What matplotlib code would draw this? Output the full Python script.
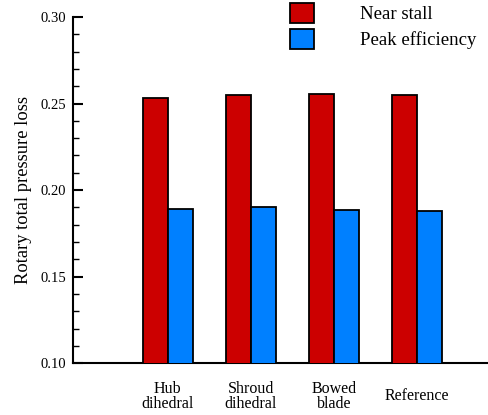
import numpy as np
import matplotlib.pyplot as plt
from matplotlib.ticker import MultipleLocator

plt.rcParams['font.family'] = ['Liberation Serif', 'DejaVu Serif']

categories = ["Hub\ndihedral", "Shroud\ndihedral", "Bowed\nblade", "Reference"]
near_stall = [0.2531, 0.2549, 0.2555, 0.2547]
peak_eff = [0.1892, 0.1902, 0.1884, 0.1879]

red = "#CC0000"
blue = "#0080FF"

fig = plt.figure(figsize=(4.89, 4.15), dpi=100)
ax = fig.add_axes([0.149, 0.125, 0.851, 0.834])

x = np.arange(len(categories))
w = 0.30
ax.bar(x - w / 2, near_stall, w, color=red, edgecolor="black", linewidth=1.3, label="Near stall", zorder=3)
ax.bar(x + w / 2, peak_eff, w, color=blue, edgecolor="black", linewidth=1.3, label="Peak efficiency", zorder=3)

ax.set_ylim(0.10, 0.30)
ax.set_xlim(-1.145, 3.87)
ax.spines['top'].set_visible(False)
ax.spines['right'].set_visible(False)
ax.spines['left'].set_linewidth(1.5)
ax.spines['bottom'].set_linewidth(1.5)

ax.yaxis.set_major_locator(MultipleLocator(0.05))
ax.yaxis.set_minor_locator(MultipleLocator(0.01))
ax.yaxis.set_major_formatter(plt.FormatStrFormatter('%.2f'))
ax.tick_params(axis='y', which='major', direction='in', length=7, width=1.5, labelsize=10.5, pad=5)
ax.tick_params(axis='y', which='minor', direction='in', length=4.5, width=1.0)
ax.set_xticks(x)
ax.set_xticklabels(categories, va='center', linespacing=0.95)
ax.tick_params(axis='x', length=0, labelsize=11.5, pad=24)

ax.set_ylabel("Rotary total pressure loss", fontsize=13.3, labelpad=6)

leg = ax.legend(loc='upper left', bbox_to_anchor=(0.5216, 1.0405), frameon=False,
                fontsize=13.5, handlelength=1.28, handleheight=1.25,
                handletextpad=2.45, labelspacing=0.3, borderpad=0, borderaxespad=0)

fig.savefig("out.png", dpi=100)
